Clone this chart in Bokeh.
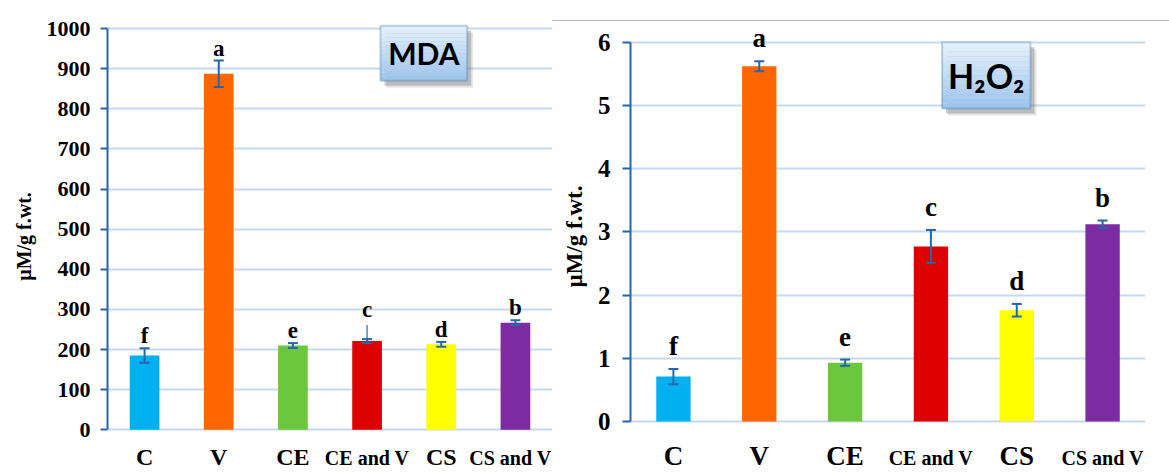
from bokeh.plotting import figure
from bokeh.models import (ColumnDataSource, Whisker, TeeHead, Label,
                          BoxAnnotation, FixedTicker, Range1d, FactorRange)
from bokeh.layouts import row
from bokeh.embed import file_html
from bokeh.resources import INLINE
from bokeh.core.properties import value

# ---------------- data ----------------
categories = ["C", "V", "CE", "CE and V", "CS", "CS and V"]

mda_mean = [185, 887, 210, 221, 213, 267]
mda_err = [18, 33, 6, 5, 6, 6]
mda_letters = ["f", "a", "e", "c", "d", "b"]
mda_ticks = [0, 100, 200, 300, 400, 500, 600, 700, 800, 900, 1000]

h2o2_mean = [0.71, 5.62, 0.93, 2.77, 1.76, 3.12]
h2o2_err = [0.12, 0.08, 0.05, 0.26, 0.10, 0.06]
h2o2_letters = ["f", "a", "e", "c", "d", "b"]
h2o2_ticks = [0, 1, 2, 3, 4, 5, 6]

y_title = "\u00b5M/g f.wt."

# ---------------- styles ----------------
bar_colors = ["#00b0f0", "#ff6600", "#6cc63e", "#dd0000", "#ffff00", "#7d2ba0"]
SERIF = "Liberation Serif"
SANS = "Lato"
AXIS_BLUE = "#2566b0"
GRID_BLUE = "#c5d9ef"
BOX_BORDER = "#2d6cab"
RULE_GREY = "#b4b4b4"
H = 472
MID = 0.33   # distance (in em) from the text middle to its baseline

# approximate advance widths (em) of Liberation Serif Bold
ADV = {"C": 0.722, "V": 0.722, "E": 0.667, "S": 0.556, "a": 0.5, "n": 0.556,
       "d": 0.556, " ": 0.25}


def text_width(s, px):
    return sum(ADV.get(ch, 0.55) for ch in s) * px


def lerp_color(c0, c1, t):
    a = [int(c0[i:i + 2], 16) for i in (1, 3, 5)]
    b = [int(c1[i:i + 2], 16) for i in (1, 3, 5)]
    return "#%02x%02x%02x" % tuple(int(round(a[k] + (b[k] - a[k]) * t)) for k in range(3))


def build(means, errs, letters, ticks, *, width, border_left, border_right,
          zero_px, ppu, tick_size, tick_standoff, tick_out,
          axis_label_size, axis_label_standoff, big_size, small_size,
          letter_size, letter_gap, lifts, label_drop, box, box_text,
          box_font_size, rule_css):
    frame_w = width - border_left - border_right
    ppc = frame_w / len(categories)       # pixels per category
    y_end = zero_px / ppu
    y_start = -(H - zero_px) / ppu

    p = figure(x_range=FactorRange(factors=categories),
               y_range=Range1d(y_start, y_end), x_axis_location=None,
               width=width, height=H, output_backend="svg", toolbar_location=None,
               min_border_left=border_left, min_border_right=border_right,
               min_border_top=0, min_border_bottom=0)
    p.outline_line_color = None
    p.border_fill_color = None
    p.styles = rule_css
    p.xgrid.grid_line_color = None

    ya = p.yaxis[0]
    ya.ticker = FixedTicker(ticks=ticks)
    ya.bounds = (ticks[0], ticks[-1])
    ya.axis_line_color = AXIS_BLUE
    ya.axis_line_width = 2
    ya.major_tick_line_color = AXIS_BLUE
    ya.major_tick_line_width = 2
    ya.major_tick_out = tick_out
    ya.major_tick_in = 0
    ya.minor_tick_line_color = None
    ya.major_label_text_font = SERIF
    ya.major_label_text_font_style = "bold"
    ya.major_label_text_font_size = tick_size
    ya.major_label_text_color = "black"
    ya.major_label_standoff = tick_standoff
    ya.axis_label = y_title
    ya.axis_label_text_font = SERIF
    ya.axis_label_text_font_style = "bold"
    ya.axis_label_text_font_size = axis_label_size
    ya.axis_label_text_color = "black"
    ya.axis_label_standoff = axis_label_standoff

    p.ygrid.grid_line_color = GRID_BLUE
    p.ygrid.grid_line_width = 2

    lsize = float(letter_size.replace("px", ""))
    upper = [m + e for m, e in zip(means, errs)]
    lower = [m - e for m, e in zip(means, errs)]
    letter_y = [u + (letter_gap + l + MID * lsize) / ppu for u, l in zip(upper, lifts)]
    src = ColumnDataSource(dict(cat=categories, mean=means, upper=upper,
                                lower=lower, letter=letters, ly=letter_y,
                                color=bar_colors))

    p.vbar(x="cat", top="mean", width=0.40, source=src, fill_color="color",
           line_color=None)

    head = dict(size=10, line_color=AXIS_BLUE, line_width=2)
    p.add_layout(Whisker(source=src, base="cat", upper="upper", lower="lower",
                         line_color=AXIS_BLUE, line_width=2, level="annotation",
                         upper_head=TeeHead(**head), lower_head=TeeHead(**head)))

    # leader lines for letters lifted away from their error bar
    lead = [i for i, l in enumerate(lifts) if l > 0]
    if lead:
        lsrc = ColumnDataSource(dict(
            cat=[categories[i] for i in lead],
            y0=[upper[i] for i in lead],
            y1=[upper[i] + (letter_gap + lifts[i] - 8) / ppu for i in lead]))
        p.segment(x0="cat", y0="y0", x1="cat", y1="y1", source=lsrc,
                  line_color="#4a86c8", line_width=1.5)

    p.text(x="cat", y="ly", text="letter", source=src, text_align="center",
           text_baseline="middle", text_font=value(SERIF),
           text_font_style="bold", text_font_size=letter_size, text_color="black")

    # category labels below the bars (the frame reaches the bottom of the figure)
    sizes = [small_size if " and " in c else big_size for c in categories]
    px_sizes = [float(s.replace("px", "")) for s in sizes]
    xoff = []
    for i, (c, s) in enumerate(zip(categories, px_sizes)):
        centre = (i + 0.5) * ppc
        over = centre + text_width(c, s) / 2 - (frame_w - 1)
        xoff.append(-over if over > 0 else 0)
    xsrc = ColumnDataSource(dict(
        cat=categories,
        y=[(-label_drop + MID * s) / ppu for s in px_sizes],
        fsize=sizes, xoff=xoff))
    p.text(x="cat", y="y", text="cat", source=xsrc, x_offset="xoff",
           text_align="center", text_baseline="middle",
           text_font=value(SERIF), text_font_style="bold",
           text_font_size="fsize", text_color="black")

    # title box with shadow and vertical gradient
    x0, x1, y0, y1 = box
    for dx, dy, a in ((6, 7, 0.18), (4, 5, 0.35)):
        p.add_layout(BoxAnnotation(left=x0 + dx / ppc, right=x1 + dx / ppc,
                                   top=y1 - dy / ppu, bottom=y0 - dy / ppu,
                                   fill_color="#6f6f6f", fill_alpha=a,
                                   line_color=None))
    n = 14
    hstep = (y1 - y0) / n
    for i in range(n):
        p.add_layout(BoxAnnotation(left=x0, right=x1, top=y1 - i * hstep,
                                   bottom=y1 - (i + 1) * hstep,
                                   fill_color=lerp_color("#e4f0fb", "#9ec5ee", i / (n - 1)),
                                   fill_alpha=1, line_color=None))
    p.add_layout(BoxAnnotation(left=x0, right=x1, top=y1, bottom=y0,
                               fill_alpha=0, line_color=BOX_BORDER, line_width=2))
    p.add_layout(Label(x=(x0 + x1) / 2, y=(y0 + y1) / 2, text=box_text,
                       text_align="center", text_baseline="middle",
                       text_font=SANS, text_font_style="bold",
                       text_font_size=box_font_size, text_color="black"))

    y_rule = (zero_px - 20) / ppu
    return p, ppu, ppc, y_rule


def rule_style(x_from, w):
    return {"background-image": "linear-gradient(%s, %s)" % (RULE_GREY, RULE_GREY),
            "background-size": "%dpx 1px" % w,
            "background-position": "%dpx 20px" % x_from,
            "background-repeat": "no-repeat"}


left, lppu, lppc, lrule = build(
    mda_mean, mda_err, mda_letters, mda_ticks,
    width=558, border_left=107, border_right=6, zero_px=429.3, ppu=0.4013,
    tick_size="22px", tick_standoff=10, tick_out=7,
    axis_label_size="20px", axis_label_standoff=9,
    big_size="24px", small_size="20px", letter_size="23px", letter_gap=5,
    lifts=[0, 0, 0, 17, 0, 0], label_drop=35,
    box=(3.68, 4.85, 870, 1007), box_text="MDA", box_font_size="30px",
    rule_css=rule_style(552, 6))

right, rppu, rppc, rrule = build(
    h2o2_mean, h2o2_err, h2o2_letters, h2o2_ticks,
    width=611, border_left=67, border_right=24, zero_px=421.0, ppu=63.22,
    tick_size="25px", tick_standoff=12, tick_out=8,
    axis_label_size="23px", axis_label_standoff=8,
    big_size="27px", small_size="20px", letter_size="27px", letter_gap=14,
    lifts=[0, 0, 0, 0, 0, 0], label_drop=43,
    box=(3.63, 4.66, 4.95, 6.0), box_text="H\u2082O\u2082", box_font_size="34px",
    rule_css=rule_style(0, 611))
right.add_layout(BoxAnnotation(left=-1.0, right=7.0, bottom=rrule - 0.6 / rppu,
                               top=rrule + 0.6 / rppu, fill_color=RULE_GREY,
                               fill_alpha=1, line_color=None, level="underlay"))

layout = row(left, right)
open("out.html", "w").write(file_html(layout, INLINE))
